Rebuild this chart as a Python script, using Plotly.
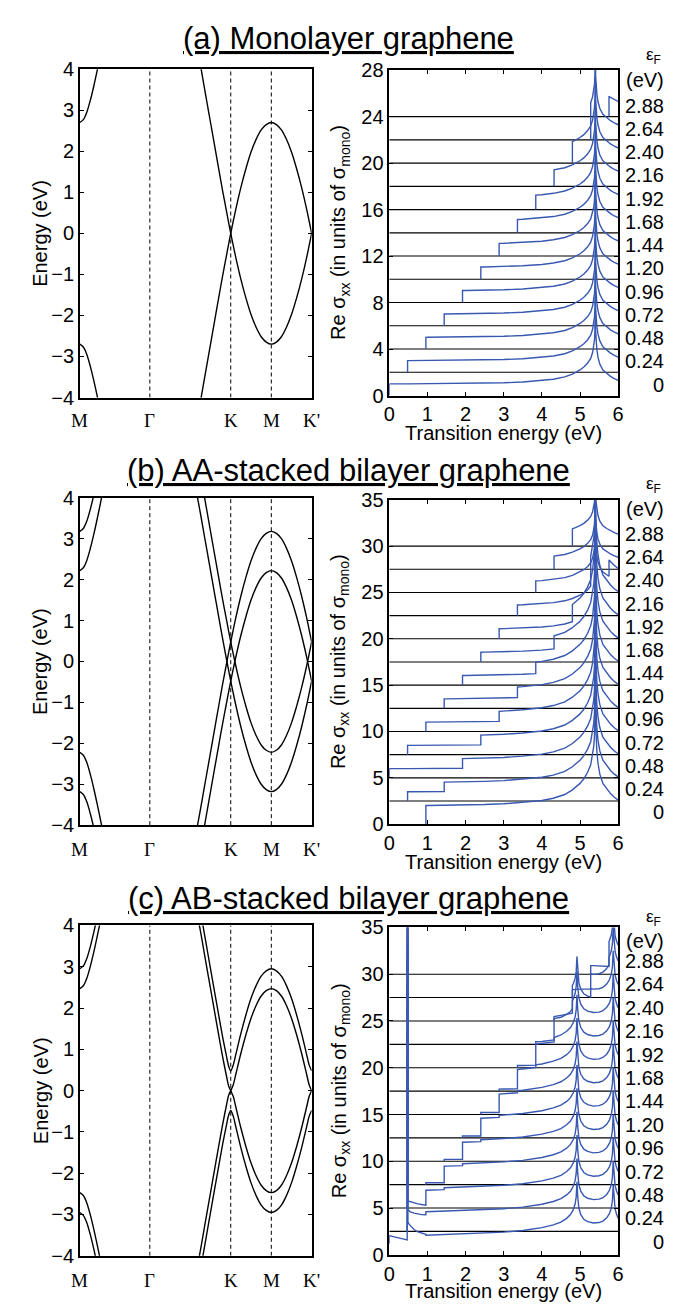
import numpy as np
import plotly.graph_objects as go

W, H = 681, 1305

# ---------------- band-structure data ----------------
k_nodes = [0.0, 0.302, 0.651, 0.826, 1.0]
k_labels = ["M", "Γ", "K", "M", "K'"]
k_dash = [0.302, 0.651, 0.826]

# branch leaving M towards Γ (left edge)
k_m = [0.0, 0.0151, 0.0302, 0.0453, 0.0604, 0.0755, 0.0906, 0.1057, 0.1208]
e_m = [2.70, 2.77, 2.95, 3.24, 3.59, 3.98, 4.39, 4.82, 5.24]

# branch Γ -> K -> M -> K' (signed monolayer band)
k_r = [0.494, 0.5114, 0.524, 0.5289, 0.5463, 0.5638, 0.5812, 0.5987, 0.6161, 0.6336,
       0.6423, 0.651, 0.6619, 0.6729, 0.6948, 0.7166, 0.7385, 0.7604, 0.7823, 0.8041,
       0.826, 0.8478, 0.8695, 0.8913, 0.913, 0.9348, 0.9565, 0.9783, 0.9891, 1.0]
e_r = [4.90, 4.37, 3.98, 3.82, 3.26, 2.70, 2.14, 1.58, 1.03, 0.51,
       0.25, 0.0, -0.30, -0.59, -1.12, -1.58, -1.98, -2.29, -2.52, -2.65,
       -2.70, -2.65, -2.52, -2.29, -1.98, -1.58, -1.12, -0.59, -0.30, 0.0]

gamma_aa = 0.48   # AA layer splitting (eV)
gamma_ab = 0.48   # AB interlayer coupling (eV)

# ---------------- conductivity data ----------------
eF_labels = ["0", "0.24", "0.48", "0.72", "0.96", "1.20", "1.44",
             "1.68", "1.92", "2.16", "2.40", "2.64", "2.88"]
off_a = [0, 2, 4, 6, 8, 10, 12, 14, 16, 18, 20, 22, 24]
off_b = [0, 2.5, 5, 7.5, 10, 12.5, 15, 17.5, 20, 22.5, 25, 27.5, 30]
off_c = [0, 2.5, 5, 7.5, 10, 12.5, 15, 17.5, 20, 22.5, 25, 27.5, 30]

# monolayer-like spectrum shape (units of sigma_mono)
sig_x = [0.0, 0.5, 1.0, 1.5, 2.0, 2.5, 3.0, 3.5, 4.0, 4.3, 4.6, 4.8, 5.0, 5.1, 5.2,
         5.28, 5.33, 5.36, 5.38, 5.39, 5.4, 5.41, 5.42, 5.44, 5.47, 5.52, 5.6, 5.7,
         5.8, 5.9, 6.0]
sig_mono = [1.0, 1.0, 1.01, 1.02, 1.04, 1.06, 1.1, 1.17, 1.28, 1.4, 1.6, 1.85, 2.2,
            2.45, 2.8, 3.2, 3.7, 4.2, 4.8, 5.5, 7.5, 5.5, 4.8, 4.0, 3.3, 2.7, 2.2, 1.9,
            1.65, 1.45, 1.3]

steps_a = [[0.0], [0.48], [0.96], [1.44], [1.92], [2.40], [2.88], [3.36], [3.84],
           [4.32], [4.80], [5.28], [5.76]]
steps_b = [[0.96, 0.96], [0.48, 1.44], [0.0, 1.92], [0.48, 2.40], [0.96, 2.88],
           [1.44, 3.36], [1.92, 3.84], [2.40, 4.32], [2.88, 4.80], [3.36, 5.28],
           [3.84, 5.76], [4.32, 6.24], [4.80, 6.72]]

# AB stacked: full spectrum and interlayer "cross" contribution
cx = [0.96, 1.5, 2.0, 2.5, 3.0, 3.5, 4.0, 4.3, 4.5, 4.65, 4.75, 4.82, 4.87, 4.9, 4.92,
      4.94, 4.97, 5.02, 5.1, 5.2, 5.35, 5.5, 5.6, 5.7, 5.77, 5.82, 5.85, 5.87, 5.89,
      5.92, 5.96, 6.0]
c_full = [2.1, 2.18, 2.24, 2.32, 2.43, 2.6, 2.9, 3.2, 3.5, 3.9, 4.3, 4.8, 5.4, 6.2, 7.8,
          6.2, 5.0, 4.3, 3.8, 3.55, 3.4, 3.45, 3.6, 3.95, 4.4, 5.0, 5.8, 7.5, 5.8, 4.9,
          4.3, 3.9]
c_cross = [0.2, 0.2, 0.2, 0.21, 0.22, 0.24, 0.3, 0.45, 0.6, 0.7, 0.8, 0.85, 0.88, 0.9,
           0.9, 0.9, 0.9, 0.9, 0.9, 0.9, 0.92, 0.9, 0.88, 0.85, 0.83, 0.82, 0.81, 0.8,
           0.8, 0.8, 0.8, 0.8]
steps_c = [None, None, None, [0.96, 1.44, 1.92], [1.44, 1.92, 2.40], [1.92, 2.40, 2.88],
           [2.40, 2.88, 3.36], [2.88, 3.36, 3.84], [3.36, 3.84, 4.32], [3.84, 4.32, 4.80],
           [4.32, 4.80, 5.28], [4.80, 5.28, 5.76], [5.28, 5.76, 6.24]]
# low-doping AB curves below 1 eV (relative to their offset)
low_c_x = [
    [0.0, 0.0, 0.1, 0.2, 0.3, 0.4, 0.47, 0.48, 0.49, 0.52, 0.58, 0.65, 0.75, 0.85, 0.96],
    [0.465, 0.48, 0.49, 0.55, 0.65, 0.75, 0.85, 0.96],
    [0.465, 0.48, 0.49, 0.6, 0.75, 0.88, 0.96],
]
low_c_y = [
    [1.2, 2.05, 1.95, 1.85, 1.75, 1.67, 1.6, 14.0, 3.5, 3.25, 2.95, 2.7, 2.45, 2.3, 2.2],
    [0.0, 14.0, 2.3, 2.1, 1.95, 1.85, 1.8, 1.78],
    [0.0, 14.0, 0.75, 0.6, 0.45, 0.35, 0.3],
]
spike_x = [0.465, 0.48, 0.495]
spike_y = [0.0, 14.0, 0.0]

BLUE = "#3858b2"
FONT = "Liberation Sans, Arial, sans-serif"
SERIF = "Liberation Serif, Times New Roman, serif"
FS = 20


def build(xgrid, comps, offset, pre_x=None, pre_y=None, skip_first_before=False):
    xs, ys = [], []
    if pre_x is not None:
        xs += list(pre_x)
        ys += [None if v is None else offset + v for v in pre_y]
    ts = sorted(set(t for t, _ in comps if t <= 6.0))
    if not ts:
        return xs, ys
    pts = sorted(set([x for x in xgrid if x > ts[0]] + ts))
    first = True
    for x in pts:
        if x in ts:
            before = sum(np.interp(x, xgrid, v) for t, v in comps if t < x)
            after = sum(np.interp(x, xgrid, v) for t, v in comps if t <= x)
            if not (first and skip_first_before):
                xs.append(x); ys.append(offset + before)
            xs.append(x); ys.append(offset + after)
        else:
            val = sum(np.interp(x, xgrid, v) for t, v in comps if t <= x)
            xs.append(x); ys.append(offset + val)
        first = False
    return xs, ys


fig = go.Figure()

def px_x(v):
    return v / W

def px_y(v):
    return 1 - v / H

panels = [
    dict(ly=(51, 385), ry=(52, 383), title="(a) Monolayer graphene", ty=20,
         ymax=28, dtick=4, lab_shift=0.95, eps_y=38, ev_y=62, xt_y=421, kl_y=408),
    dict(ly=(487, 820), ry=(489, 819), title="(b) AA-stacked bilayer graphene", ty=459,
         ymax=35, dtick=5, lab_shift=1.3, eps_y=474, ev_y=498, xt_y=857, kl_y=845),
    dict(ly=(922, 1258), ry=(924, 1257), title="(c) AB-stacked bilayer graphene", ty=895,
         ymax=35, dtick=5, lab_shift=1.4, eps_y=914, ev_y=938, xt_y=1294, kl_y=1283),
]

k_m_a = np.array(k_m); e_m_a = np.array(e_m)
k_r_a = np.array(k_r); e_r_a = np.array(e_r)

band_sets = []
# (a) monolayer
band_sets.append([(k_m_a, e_m_a), (k_m_a, -e_m_a), (k_r_a, e_r_a), (k_r_a, -e_r_a)])
# (b) AA
bs = []
for s in (1, -1):
    for g in (gamma_aa, -gamma_aa):
        bs.append((k_m_a, s * e_m_a + g))
        bs.append((k_r_a, s * e_r_a + g))
band_sets.append(bs)
# (c) AB
def c1(e):
    return np.sqrt(gamma_ab ** 2 / 4 + e ** 2) - gamma_ab / 2
def c2(e):
    return np.sqrt(gamma_ab ** 2 / 4 + e ** 2) + gamma_ab / 2
bs = []
for s in (1, -1):
    bs.append((k_m_a, s * c1(e_m_a)))
    bs.append((k_m_a, s * c2(e_m_a)))
    bs.append((k_r_a, s * np.sign(e_r_a) * c1(np.abs(e_r_a))))
    bs.append((k_r_a, s * c2(np.abs(e_r_a))))
band_sets.append(bs)

annotations = []
layout_axes = {}

for p_i, P in enumerate(panels):
    n_l = 2 * p_i + 1
    n_r = 2 * p_i + 2
    xl = "x" if n_l == 1 else f"x{n_l}"
    yl = "y" if n_l == 1 else f"y{n_l}"
    xr = f"x{n_r}"
    yr = f"y{n_r}"

    # dashed high-symmetry lines
    dx, dy = [], []
    for kd in k_dash:
        dx += [kd, kd, None]; dy += [-4, 4, None]
    fig.add_trace(go.Scatter(x=dx, y=dy, mode="lines", xaxis=xl, yaxis=yl,
                             line=dict(color="black", width=1, dash="4px,3px"),
                             hoverinfo="skip", showlegend=False))
    for kk, ee in band_sets[p_i]:
        fig.add_trace(go.Scatter(x=kk, y=ee, mode="lines", xaxis=xl, yaxis=yl,
                                 line=dict(color="black", width=1.4, shape="spline", smoothing=0.8),
                                 hoverinfo="skip", showlegend=False))

    # reference lines
    offs = [off_a, off_b, off_c][p_i]
    hx, hy = [], []
    for o in offs[1:]:
        hx += [0, 6, None]; hy += [o, o, None]
    fig.add_trace(go.Scatter(x=hx, y=hy, mode="lines", xaxis=xr, yaxis=yr,
                             line=dict(color="black", width=1.1), hoverinfo="skip",
                             showlegend=False))

    # conductivity curves
    for i, o in enumerate(offs):
        if p_i == 0:
            xs, ys = build(sig_x, [(t, np.array(sig_mono)) for t in steps_a[i]], o)
        elif p_i == 1:
            xs, ys = build(sig_x, [(t, np.array(sig_mono)) for t in steps_b[i]], o)
        else:
            full = np.array(c_full); cr = np.array(c_cross)
            if i == 0 or i == 1:
                xs, ys = build(cx, [(0.96, full)], o, low_c_x[i], low_c_y[i], True)
            elif i == 2:
                xs, ys = build(cx, [(0.96, full - cr), (1.44, cr)], o,
                               low_c_x[i], low_c_y[i], True)
            else:
                t1, t2, t3 = steps_c[i]
                xs, ys = build(cx, [(t1, cr), (t2, full - 2 * cr), (t3, cr)], o,
                               spike_x + [None], spike_y + [None])
        fig.add_trace(go.Scatter(x=xs, y=ys, mode="lines", xaxis=xr, yaxis=yr,
                                 line=dict(color=BLUE, width=1.4), hoverinfo="skip",
                                 showlegend=False, connectgaps=False))
        annotations.append(dict(x=px_x(664), xref="paper", xanchor="right",
                                y=o + P["lab_shift"], yref=yr, yanchor="middle",
                                text=eF_labels[i], showarrow=False,
                                font=dict(family=FONT, size=FS, color="black")))

    # band-path labels
    for kv, kt in zip(k_nodes, k_labels):
        annotations.append(dict(x=kv, xref=xl, y=px_y(P["kl_y"]), yref="paper",
                                text=kt, showarrow=False, xanchor="center",
                                yanchor="middle",
                                font=dict(family=SERIF, size=19, color="black")))

    axis_common = dict(showline=True, linecolor="black", linewidth=1.5, mirror="ticks",
                       ticks="inside", ticklen=4, tickwidth=1, tickcolor="black",
                       showgrid=False, zeroline=False,
                       tickfont=dict(family=FONT, size=FS, color="black"))
    # left band plot axes
    layout_axes["xaxis" if n_l == 1 else f"xaxis{n_l}"] = dict(
        axis_common, domain=[px_x(67), px_x(303)], range=[0, 1], anchor=yl,
        showticklabels=False, ticks="", mirror=True)
    layout_axes["yaxis" if n_l == 1 else f"yaxis{n_l}"] = dict(
        axis_common, domain=[px_y(P["ly"][1]), px_y(P["ly"][0])], range=[-4, 4],
        anchor=xl, dtick=1, tick0=-4)
    # right conductivity axes
    layout_axes[f"xaxis{n_r}"] = dict(
        axis_common, domain=[px_x(382), px_x(615)], range=[0, 6], anchor=yr, dtick=1)
    layout_axes[f"yaxis{n_r}"] = dict(
        axis_common, domain=[px_y(P["ry"][1]), px_y(P["ry"][0])],
        range=[0, P["ymax"]], anchor=xr, dtick=P["dtick"])

    # titles and axis titles
    annotations.append(dict(x=px_x(341), y=px_y(P["ty"]), xref="paper", yref="paper",
                            text="<u>" + P["title"] + "</u>", showarrow=False,
                            xanchor="center", yanchor="middle",
                            font=dict(family=FONT, size=31, color="black")))
    annotations.append(dict(x=px_x(27), y=px_y(sum(P["ly"]) / 2), xref="paper", yref="paper",
                            text="Energy (eV)", textangle=-90, showarrow=False,
                            xanchor="center", yanchor="middle",
                            font=dict(family=FONT, size=FS, color="black")))
    annotations.append(dict(x=px_x(332), y=px_y(sum(P["ry"]) / 2), xref="paper", yref="paper",
                            text="Re σ<sub>xx</sub> (in units of σ<sub>mono</sub>)",
                            textangle=-90, showarrow=False,
                            xanchor="center", yanchor="middle",
                            font=dict(family=FONT, size=FS, color="black")))
    annotations.append(dict(x=px_x(498), y=px_y(P["xt_y"]), xref="paper", yref="paper",
                            text="Transition energy (eV)", showarrow=False,
                            xanchor="center", yanchor="middle",
                            font=dict(family=FONT, size=FS, color="black")))
    annotations.append(dict(x=px_x(651), y=px_y(P["eps_y"]), xref="paper", yref="paper",
                            text="ε<sub>F</sub>", showarrow=False,
                            xanchor="center", yanchor="middle",
                            font=dict(family=FONT, size=17, color="black")))
    annotations.append(dict(x=px_x(664), y=px_y(P["ev_y"]), xref="paper", yref="paper",
                            text="(eV)", showarrow=False,
                            xanchor="right", yanchor="middle",
                            font=dict(family=FONT, size=FS, color="black")))

fig.update_layout(width=W, height=H, margin=dict(l=0, r=0, t=0, b=0),
                  paper_bgcolor="white", plot_bgcolor="white", showlegend=False,
                  annotations=annotations, **layout_axes)

fig.write_html("out.html")
